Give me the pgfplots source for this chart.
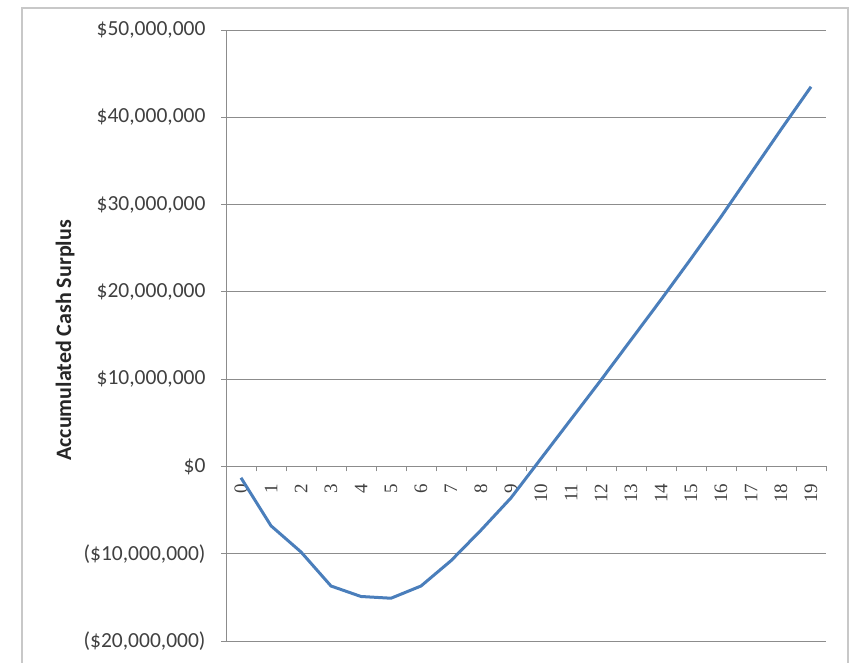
\documentclass[border=0pt]{standalone}
\usepackage{fontspec}
\setmainfont{Carlito}
\newfontfamily\tickserif{Liberation Serif}
\usepackage{pgfplots}
\pgfplotsset{compat=1.18}
\definecolor{excelblue}{HTML}{4A7EBB}
\definecolor{gridgray}{HTML}{8C8C8C}
\definecolor{txt}{HTML}{404040}
\definecolor{framegray}{HTML}{C8C8C8}
\begin{document}
\begin{tikzpicture}
\useasboundingbox (0pt,0pt) rectangle (854pt,-663pt);
\draw[color=framegray, line width=1.5pt] (22pt,-700pt) -- (22pt,-8pt) -- (848pt,-8pt) -- (848pt,-700pt);
\begin{axis}[
  at={(226pt,-641pt)}, anchor=south west,
  scale only axis, width=600pt, height=611pt,
  xmin=-0.5, xmax=19.5, ymin=-20000000, ymax=50000000,
  axis x line=middle, axis y line=left,
  axis line style={-, color=gridgray, line width=0.9pt},
  hide obscured x ticks=false, hide obscured y ticks=false,
  scaled y ticks=false, scaled x ticks=false,
  ytick={-20000000,-10000000,0,10000000,20000000,30000000,40000000,50000000},
  yticklabels={{(\$20,000,000)},{(\$10,000,000)},{\$0},{\$10,000,000},{\$20,000,000},{\$30,000,000},{\$40,000,000},{\$50,000,000}},
  ymajorgrids, grid style={gridgray, line width=0.9pt},
  xtick={0,1,...,19},
  minor xtick={-0.5,0.5,...,19.5},
  major x tick style={draw=none},
  tick align=outside,
  major tick length=5pt, minor tick length=5pt,
  tick style={gridgray, line width=0.9pt},
  /pgf/number format/assume math mode=true,
  xticklabel style={font=\tickserif\fontsize{19}{19}\selectfont, text=txt, rotate=90, anchor=east, inner sep=0pt, xshift=-12pt},
  yticklabel style={font=\fontsize{21.5}{21.5}\selectfont, text=txt, xshift=-12pt},
  ylabel={Accumulated Cash Surplus},
  ylabel style={at={(axis description cs:-0.268,0.492)}, anchor=center, font=\bfseries\fontsize{22}{22}\selectfont, text=black!85},
]
\addplot[excelblue, line width=3pt, line join=round] coordinates {
(0,-1300000) (1,-6800000) (2,-9800000) (3,-13700000) (4,-14900000)
(5,-15100000) (6,-13700000) (7,-10800000) (8,-7300000) (9,-3600000)
(10,900000) (11,5400000) (12,9900000) (13,14500000) (14,19100000)
(15,23800000) (16,28600000) (17,33600000) (18,38600000) (19,43500000)
};
\end{axis}
\end{tikzpicture}
\end{document}
